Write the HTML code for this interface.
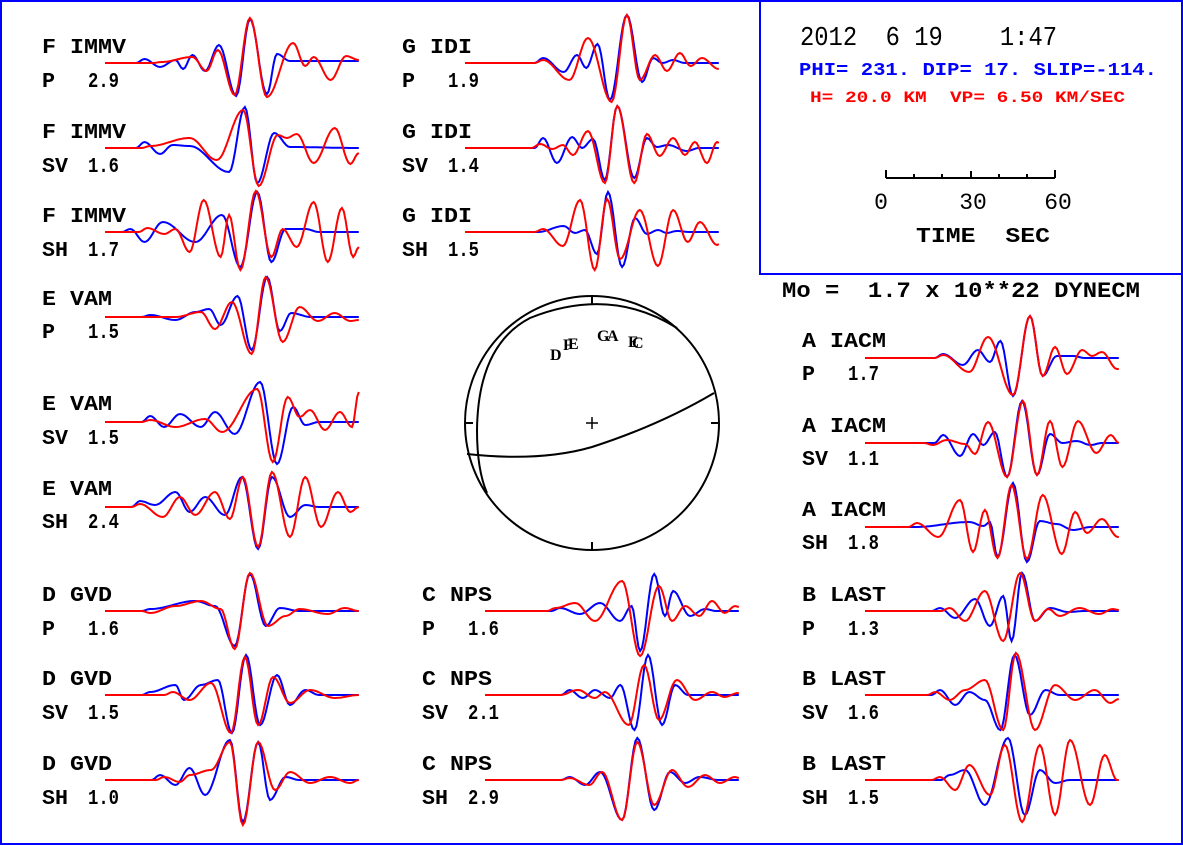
<!DOCTYPE html>
<html><head><meta charset="utf-8"><style>
html,body{margin:0;padding:0;background:#fff;}
svg{display:block;}
.lab{font-family:"Liberation Mono",monospace;font-weight:bold;font-size:21px;fill:#000;}
</style></head><body>
<svg id="chart" width="1183" height="845" viewBox="0 0 1183 845" xmlns="http://www.w3.org/2000/svg">
<rect x="1" y="1" width="1181" height="843" fill="#fff" stroke="#0000ff" stroke-width="2"/>
<rect x="760" y="1" width="422" height="273" fill="none" stroke="#0000ff" stroke-width="2"/>
<text x="800" y="45" font-family="Liberation Mono,monospace" font-size="27" textLength="257" lengthAdjust="spacingAndGlyphs" xml:space="preserve">2012  6 19    1:47</text>
<text x="799" y="75" fill="#0000ff" font-family="Liberation Mono,monospace" font-weight="bold" font-size="18" textLength="358" lengthAdjust="spacingAndGlyphs">PHI= 231. DIP= 17. SLIP=-114.</text>
<text x="810" y="102" fill="#ff0000" font-family="Liberation Mono,monospace" font-weight="bold" font-size="16" textLength="315" lengthAdjust="spacingAndGlyphs" xml:space="preserve">H= 20.0 KM  VP= 6.50 KM/SEC</text>
<g stroke="#000" stroke-width="2">
<line x1="886" y1="178" x2="1055" y2="178"/>
<line x1="886" y1="170" x2="886" y2="178"/><line x1="914" y1="174" x2="914" y2="178"/><line x1="942" y1="174" x2="942" y2="178"/><line x1="971" y1="171" x2="971" y2="178"/><line x1="999" y1="174" x2="999" y2="178"/><line x1="1027" y1="174" x2="1027" y2="178"/><line x1="1055" y1="170" x2="1055" y2="178"/>
</g>
<text x="881" y="209" text-anchor="middle" font-family="Liberation Mono,monospace" font-size="23">0</text>
<text x="973" y="209" text-anchor="middle" font-family="Liberation Mono,monospace" font-size="23">30</text>
<text x="1058" y="209" text-anchor="middle" font-family="Liberation Mono,monospace" font-size="23">60</text>
<text x="916" y="242" font-family="Liberation Mono,monospace" font-weight="bold" font-size="21" textLength="134" lengthAdjust="spacingAndGlyphs" xml:space="preserve">TIME  SEC</text>
<text x="782" y="297" font-family="Liberation Mono,monospace" font-weight="bold" font-size="22" textLength="358" lengthAdjust="spacingAndGlyphs" xml:space="preserve">Mo =  1.7 x 10**22 DYNECM</text>
<g fill="none" stroke="#000" stroke-width="2">
<circle cx="592" cy="423" r="127"/>
<path d="M677,328 Q610,286 530,318 Q478,345 477,430 Q477,470 487,493"/>
<path d="M714,393 Q660,425 592,447 Q540,462 467,454"/>
<line x1="592" y1="296" x2="592" y2="304"/><line x1="592" y1="542" x2="592" y2="550"/>
<line x1="465" y1="423" x2="473" y2="423"/><line x1="711" y1="423" x2="719" y2="423"/>
<line x1="586" y1="423" x2="598" y2="423" stroke-width="1.5"/><line x1="592" y1="417" x2="592" y2="429" stroke-width="1.5"/>
</g>
<g font-family="Liberation Serif,serif" font-weight="bold" font-size="16">
<text x="550" y="360">D</text><text x="563" y="350">F</text><text x="568" y="349">E</text>
<text x="597" y="341">G</text><text x="607" y="341">A</text><text x="628" y="347">E</text><text x="632" y="348">C</text>
</g>
<g id="traces"></g>
</svg>
<script>
// Each extremum: [time seconds, amplitude px (up positive)]
const pxPerSec = 2.82, traceSec = 90;
const immvP_obs=[[14,4],[19.5,-4],[25,3],[27.7,-6],[31,8],[35.5,-8],[40.4,18],[46.5,-33],[51.4,44],[57.4,-31],[61,9],[65.6,2],[90,2]];
const immvP_syn=[[20,1],[31,6],[36,-8],[40,13],[46,-32],[51.4,45],[57.4,-34],[66.7,20],[71,-3],[74,6],[80,-17],[85.5,7],[90,3]];
const immvSV_obs=[[14,6],[19.5,-6],[24,3],[30,2],[44,-24],[49.6,41],[54,-35],[60,15],[65.6,1],[90,0]];
const immvSV_syn=[[16,2],[30,10],[39.6,-12],[49,38],[54.5,-38],[61.3,13],[64.5,10],[68,14],[74,-15],[81.5,20],[87,-16],[90,-5]];
const immvSH_obs=[[9,3],[14,-10],[20.5,10],[32,-10],[41.5,17],[48,-35],[54,40],[59,-30],[64,3],[71,3],[76,0],[90,0]];
const immvSH_syn=[[15,4],[21,-2],[25,3],[30,-20],[35,32],[41,-25],[44,17],[48,-38],[53.5,41],[59,-25],[63,3],[68,-15],[74,30],[79,-30],[84,24],[88,-25],[90,-15]];
const vamP_obs=[[16,2],[25,-3],[32,5],[37,8],[41,-8],[47,21],[52,-33],[57.5,40],[62,-14],[66,4],[73,0],[90,0]];
const vamP_syn=[[25,0],[34,5],[39,-12],[45,15],[52,-37],[57,40],[63,-25],[69,10],[75.5,-4],[81.5,4],[87,-4],[90,-3]];
const vamSV_obs=[[16,6],[21,-5],[26.6,8],[34,-5],[39,10],[46,-12],[55,40],[61,-42],[66.7,15],[71,-3],[76,0],[90,0]];
const vamSV_syn=[[16,2],[25,-5],[35.5,3],[41.5,-10],[54,33],[59.5,-40],[64.8,25],[69,5],[72.7,12],[78,-8],[83.3,10],[87.6,-5],[90,30]];
const vamSH_obs=[[12.4,6],[17.7,2],[25,15],[30,-5],[35.5,10],[42.5,-8],[48.6,30],[54.3,-42],[59.2,30],[65.6,-10],[71,2],[76,0],[90,0]];
const vamSH_syn=[[12.4,3],[20.5,-10],[26.6,10],[32,-8],[39,15],[44.3,-12],[48.9,30],[54.3,-40],[59.2,35],[65.6,-30],[71,30],[76.6,-20],[82.6,15],[87,-5],[90,0]];
const gvdP_obs=[[16,2],[32,10],[39,5],[46,-35],[51.4,37],[57,-15],[62,3],[69,0],[90,0]];
const gvdP_syn=[[16,-2],[25,5],[34,10],[41,2],[46,-38],[51.4,38],[57.8,-15],[64,-5],[69,2],[79,-3],[85,3],[90,0]];
const gvdSV_obs=[[16,3],[25,10],[28,-5],[34,10],[40,15],[45,-38],[50,40],[55,-30],[61,20],[65.6,-10],[71,5],[76,0],[90,0]];
const gvdSV_syn=[[24,3],[30,-5],[37.6,12],[44.7,-38],[49.6,38],[54.3,-30],[59.6,18],[65.6,-8],[72.7,5],[81.5,-3],[90,0]];
const gvdSH_obs=[[19.5,5],[25,-5],[30,12],[35.5,-15],[44.3,40],[48.9,-42],[54.3,38],[58.5,-20],[64,3],[69,0],[90,0]];
const gvdSH_syn=[[21,3],[26.6,-2],[30,5],[37.6,10],[44.3,38],[48.9,-45],[54.3,38],[60.3,-10],[65.6,8],[72.7,-3],[79.8,3],[87,-3],[90,0]];
const idiP_obs=[[27.7,5],[35,-9],[39.7,8],[43,-5],[47,19],[51.4,-37],[57.4,48],[62.8,-19],[66.7,5],[70,0],[73.8,3],[78,0],[90,0]];
const idiP_syn=[[27.7,3],[37,-17],[43.6,25],[52,-39],[57.4,48],[62,-17],[67.4,8],[71.6,-8],[76.2,10],[80,-3],[84,5],[90,-6]];
const idiSV_obs=[[27.7,10],[32.6,-15],[38,11],[41.5,0],[45.4,9],[49.6,-32],[54,42],[60,-30],[64.5,10],[68,1],[72,3],[78.7,-3],[83,0],[90,0]];
const idiSV_syn=[[26.6,4],[31,-1],[34.7,3],[38.3,-7],[43.6,17],[49.6,-35],[54,42],[60,-35],[64.5,14],[69,-8],[73.8,10],[78,-7],[81.5,6],[85.8,-15],[89.4,6],[90,5]];
const idiSH_obs=[[26,0],[35,6],[39,-1],[42.5,2],[46.8,-22],[50.7,40],[55.7,-35],[60.3,14],[64.5,-2],[68.4,2],[71.6,-1],[75,1],[80,0],[90,0]];
const idiSH_syn=[[27.7,3],[34.7,-14],[40.8,32],[46,-38],[50.4,33],[55,-27],[62,22],[68.4,-34],[73.8,22],[79,-10],[83.3,10],[89.4,-13],[90,-12]];
const iacmP_obs=[[27.7,4],[34.7,-7],[40,8],[44.3,-4],[48,17],[52.5,-38],[58.5,42],[63,-18],[68,2],[73.8,2],[78,0],[90,0]];
const iacmP_syn=[[27.7,3],[37,-14],[43.6,21],[52.5,-37],[58.5,42],[63,-18],[67.4,11],[71.6,-16],[77,8],[80.5,2],[84,6],[89.4,-11],[90,-11]];
const iacmSV_obs=[[27.7,8],[33.7,-13],[38.3,9],[42,-2],[46,11],[50.4,-34],[55.7,42],[61,-32],[65.6,9],[70,0],[75,2],[80,-2],[84,0],[90,0]];
const iacmSV_syn=[[24,-2],[29,3],[35.5,-1],[39,-11],[43.6,21],[50.4,-34],[56,42],[61,-32],[65.6,22],[70,-24],[75.5,22],[82,-10],[87.2,8],[90,0]];
const iacmSH_obs=[[18,0],[37,5],[42,1],[44.3,5],[47,-30],[52.5,44],[57.4,-35],[62,6],[68,3],[73.8,-3],[80,0],[90,0]];
const iacmSH_syn=[[18.4,4],[26,-10],[33.7,27],[38.3,-25],[42.5,17],[47,-31],[52,42],[57.4,-32],[63,32],[69.8,-27],[74.5,15],[78.7,-6],[84,8],[89.7,-10],[90,-10]];
const npsP_obs=[[26.6,3],[33.7,-3],[40.8,8],[47.9,-10],[52,5],[55,-40],[60,37],[63.8,-5],[66.7,20],[72.7,-5],[78,2],[82,0],[90,0]];
const npsP_syn=[[25,3],[32,8],[39,-10],[48.6,30],[55,-45],[61.7,25],[66.3,-10],[71,5],[76,-5],[80.5,10],[85,-2],[88.7,5],[90,4]];
const npsSV_obs=[[30,5],[34.7,-3],[39,5],[44.3,-3],[48,10],[53,-35],[57.8,40],[62.8,-30],[67.4,10],[72,0],[90,0]];
const npsSV_syn=[[26.6,0],[33,5],[39,-3],[42.5,3],[51,-30],[56.4,30],[61.7,-25],[68,15],[74.5,-5],[80.5,3],[85,-2],[89.7,2],[90,2]];
const npsSH_obs=[[30,3],[35.5,-5],[40.8,8],[48.6,-40],[54,42],[60,-30],[65.6,8],[71,-3],[76,3],[83,0],[90,0]];
const npsSH_syn=[[30,2],[37,-5],[41.5,8],[48.6,-40],[54,38],[60,-25],[66.3,10],[72,-7],[78,5],[83.3,-3],[88.7,3],[90,2]];
const lastP_obs=[[26.6,3],[32,-7],[39,12],[44.3,-15],[49,15],[52,-30],[55.7,38],[60.3,-10],[65.6,3],[72,-1],[78,0],[90,0]];
const lastP_syn=[[30,3],[35.5,-10],[42.5,20],[49,-30],[55,38],[60.3,-10],[65,2],[69,-5],[76,3],[83,-3],[88,2],[90,1]];
const lastSV_obs=[[26.6,5],[32,-10],[37,3],[42.5,-5],[48,-35],[53,40],[58.5,-20],[64,5],[69,0],[90,0]];
const lastSV_syn=[[25,3],[30,-5],[35.5,5],[42.5,15],[49,-35],[53.5,42],[60.3,-35],[67.4,10],[74.5,-5],[81.5,5],[87,-8],[90,-4]];
const lastSH_obs=[[30,5],[35.5,10],[42.5,-25],[50.7,42],[56.7,-35],[62,10],[67.4,-3],[72.7,0],[90,0]];
const lastSH_syn=[[26.6,3],[32,-10],[37,15],[44.3,-15],[49.6,35],[55.7,-42],[62,35],[67.4,-35],[72.7,40],[79.8,-25],[85,25],[89.4,0],[90,0]];

const stations = [
 ["F IMMV","P","2.9",105,63,-10,24,immvP_obs,immvP_syn],
 ["F IMMV","SV","1.6",105,148,-10,24,immvSV_obs,immvSV_syn],
 ["F IMMV","SH","1.7",105,232,-10,24,immvSH_obs,immvSH_syn],
 ["E VAM","P","1.5",105,317,-12,21,vamP_obs,vamP_syn],
 ["E VAM","SV","1.5",105,422,-12,22,vamSV_obs,vamSV_syn],
 ["E VAM","SH","2.4",105,507,-12,21,vamSH_obs,vamSH_syn],
 ["D GVD","P","1.6",105,611,-10,24,gvdP_obs,gvdP_syn],
 ["D GVD","SV","1.5",105,695,-10,24,gvdSV_obs,gvdSV_syn],
 ["D GVD","SH","1.0",105,780,-10,24,gvdSH_obs,gvdSH_syn],
 ["G IDI","P","1.9",465,63,-10,24,idiP_obs,idiP_syn],
 ["G IDI","SV","1.4",465,148,-10,24,idiSV_obs,idiSV_syn],
 ["G IDI","SH","1.5",465,232,-10,24,idiSH_obs,idiSH_syn],
 ["C NPS","P","1.6",485,611,-10,24,npsP_obs,npsP_syn],
 ["C NPS","SV","2.1",485,695,-10,24,npsSV_obs,npsSV_syn],
 ["C NPS","SH","2.9",485,780,-10,24,npsSH_obs,npsSH_syn],
 ["A IACM","P","1.7",865,358,-11,22,iacmP_obs,iacmP_syn],
 ["A IACM","SV","1.1",865,443,-11,22,iacmSV_obs,iacmSV_syn],
 ["A IACM","SH","1.8",865,527,-11,22,iacmSH_obs,iacmSH_syn],
 ["B LAST","P","1.3",865,611,-10,24,lastP_obs,lastP_syn],
 ["B LAST","SV","1.6",865,695,-10,24,lastSV_obs,lastSV_syn],
 ["B LAST","SH","1.5",865,780,-10,24,lastSH_obs,lastSH_syn]
];
const NS="http://www.w3.org/2000/svg";
const g=document.getElementById("traces");
function xScale(x0,t){return x0+t*pxPerSec;}
function yScale(y0,a){return y0-a;}
function tracePath(x0,y0,ext){
  const lead=Math.max(0,ext[0][0]-3);
  const pts=[[0,0],[lead,0]].concat(ext);
  let d="M"+xScale(x0,0).toFixed(1)+","+yScale(y0,0).toFixed(1);
  for(let i=1;i<pts.length;i++){
    const [t0,a0]=pts[i-1],[t1,a1]=pts[i];
    const n=Math.max(2,Math.ceil((t1-t0)*pxPerSec/2));
    for(let k=1;k<=n;k++){
      const f=k/n, w=(1-Math.cos(Math.PI*f))/2;
      d+=" L"+xScale(x0,t0+(t1-t0)*f).toFixed(1)+","+yScale(y0,a0+(a1-a0)*w).toFixed(1);
    }
  }
  return d;
}
function addText(name,x,y,str,len){
  const t=document.createElementNS(NS,"text");
  t.setAttribute("class","lab");t.setAttribute("x",x);t.setAttribute("y",y);
  t.style.whiteSpace="pre";
  t.setAttribute("textLength",len);t.setAttribute("lengthAdjust","spacingAndGlyphs");
  t.textContent=str;g.appendChild(t);
  return t;
}
stations.forEach(s=>{
  const [name,phase,amp,x0,y0,dy1,dy2,obs,syn]=s;
  const lx = x0-63;
  const t1=addText(name,lx,y0+dy1,name,name.length*14);
  
  
  const t2=addText(phase,lx,y0+dy2,phase,phase.length*13);
  
  
  const t3=addText(amp,lx+46,y0+dy2,amp,31);
  
  
  const p1=document.createElementNS(NS,"path");
  
  
  p1.setAttribute("d",tracePath(x0,y0,obs));p1.setAttribute("fill","none");p1.setAttribute("stroke","#0000ff");p1.setAttribute("stroke-width","2");
  g.appendChild(p1);
  const p2=document.createElementNS(NS,"path");
  
  
  p2.setAttribute("d",tracePath(x0,y0,syn));p2.setAttribute("fill","none");p2.setAttribute("stroke","#ff0000");p2.setAttribute("stroke-width","2");
  g.appendChild(p2);
});
</script>
</body></html>
